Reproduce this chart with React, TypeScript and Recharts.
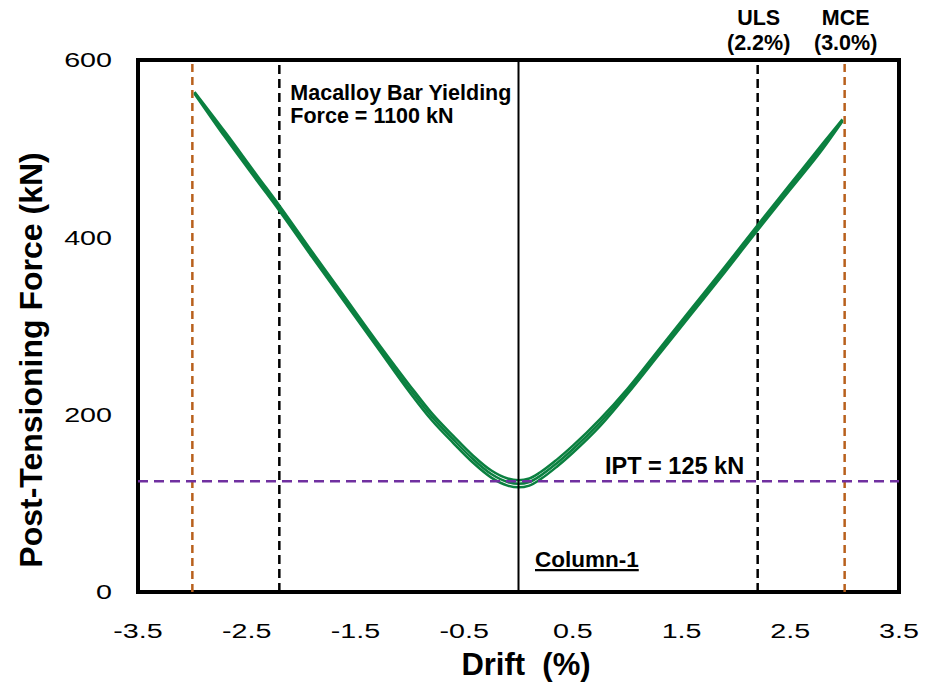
import React from "react";
import {
    LineChart,
    Line,
    XAxis,
    YAxis,
    ReferenceLine,
    ReferenceArea
} from "recharts";

// drift (%) sampled along the V-shaped loops
const drift = [-2.98, -2.7, -2.4, -2.2, -1.9, -1.6, -1.3, -1.0, -0.8, -0.6, -0.42, -0.25, -0.1, 0, 0.1, 0.2, 0.35, 0.5, 0.75, 1.0, 1.3, 1.6, 1.9, 2.2, 2.5, 2.8, 2.98];
// PT force (kN) for the outer, middle and inner strands of the cycles
const forceUpper = [564, 519, 469, 436, 384, 333, 282, 233, 202, 176, 154, 137, 128, 126, 128, 135, 149, 165, 195, 229, 275, 321, 367, 414, 460, 506, 533];
const forceMid = [563, 516, 466, 433, 381, 330, 279, 229, 198, 172, 150, 133, 124, 122, 124, 131, 145, 161, 191, 226, 272, 318, 364, 411, 457, 503, 532];
const forceLower = [562, 513, 463, 430, 378, 327, 276, 225, 194, 168, 146, 129, 120, 118, 120, 127, 141, 157, 187, 223, 269, 315, 361, 408, 454, 500, 531];

const xTicks = [-3.5, -2.5, -1.5, -0.5, 0.5, 1.5, 2.5, 3.5];
const yTicks = [0, 200, 400, 600];

const mceDrift = 3.0;
const ulsDrift = 2.2;
const iptForce = 125;

const data = drift.map((d, i) => ({ drift: d, upper: forceUpper[i], mid: forceMid[i], lower: forceLower[i] }));

const FONT = "'Liberation Sans', Arial, sans-serif";
const GREEN = "#0b8040";
const BROWN = "#b8601c";
const PURPLE = "#7030a0";

const XTick = (props: any) => {
    const { x, y, payload } = props;
    return (
        <g transform={`translate(${x},${y})`}>
            <text transform="scale(1.4,1)" textAnchor="middle" dy="0.71em" fontSize={20.5} fontFamily={FONT} fill="#000">
                {String(payload.value)}
            </text>
        </g>
    );
};

const YTick = (props: any) => {
    const { x, y, payload } = props;
    return (
        <g transform={`translate(${x},${y})`}>
            <text transform="scale(1.4,1)" textAnchor="end" dy="0.36em" fontSize={20.5} fontFamily={FONT} fill="#000">
                {String(payload.value)}
            </text>
        </g>
    );
};

const boldText = { fontFamily: FONT, fontWeight: 700, fill: "#000" } as const;

const MacalloyLabel = (props: any) => {
    const { x, y } = props.viewBox;
    return (
        <g>
            <text x={x + 11} y={y + 39.5} fontSize={21.5} {...boldText}>Macalloy Bar Yielding</text>
            <text x={x + 11} y={y + 62.5} fontSize={21.5} {...boldText}>Force = 1100 kN</text>
        </g>
    );
};

const TopLabel = (name: string, pct: string) => (props: any) => {
    const { x, y } = props.viewBox;
    return (
        <g>
            <text x={x + 1} y={y - 35.5} textAnchor="middle" fontSize={21.5} {...boldText}>{name}</text>
            <text x={x + 1} y={y - 10.5} textAnchor="middle" fontSize={21.5} {...boldText}>{pct}</text>
        </g>
    );
};

const IptLabel = (props: any) => {
    const { x, y } = props.viewBox;
    return (
        <text x={x + 467} y={y - 7} fontSize={23.5} {...boldText}>IPT = 125 kN</text>
    );
};

const ColumnLabel = (props: any) => {
    const { x, y, height } = props.viewBox;
    return (
        <text x={x + 16.5} y={y + height - 25} fontSize={22.5} {...boldText} style={{ textDecoration: "underline" }}>
            Column-1
        </text>
    );
};

const XTitle = (props: any) => {
    const { x, y, width } = props.viewBox;
    return (
        <text x={x + width / 2 + 7.5} y={y + 83} textAnchor="middle" fontSize={31} {...boldText}>
            {"Drift\u00A0\u00A0(%)"}
        </text>
    );
};

const YTitle = () => (
    <text x={42} y={360} transform="rotate(-90, 42, 360)" textAnchor="middle" fontSize={32} {...boldText}>
        Post-Tensioning Force (kN)
    </text>
);

const App = () => {
    return (
        <div style={{ position: "absolute", left: 0, top: 0, width: 926, height: 686, background: "#fff" }}>
            <LineChart width={926} height={686} data={data} margin={{ top: 60, right: 27, bottom: 24, left: 0 }}>
                <XAxis
                    type="number"
                    dataKey="drift"
                    domain={[-3.5, 3.5]}
                    ticks={xTicks}
                    axisLine={false}
                    tickLine={false}
                    tickSize={0}
                    tickMargin={31}
                    height={70}
                    tick={<XTick />}
                    interval={0}
                    allowDataOverflow
                    label={<XTitle />}
                />
                <YAxis
                    type="number"
                    domain={[0, 600]}
                    ticks={yTicks}
                    axisLine={false}
                    tickLine={false}
                    tickSize={0}
                    tickMargin={26}
                    width={138}
                    tick={<YTick />}
                    interval={0}
                    allowDataOverflow
                    label={<YTitle />}
                />
                <ReferenceLine x={-mceDrift} stroke={BROWN} strokeWidth={2.5} strokeDasharray="8 5" />
                <ReferenceLine x={mceDrift} stroke={BROWN} strokeWidth={2.5} strokeDasharray="8 5" label={TopLabel("MCE", "(3.0%)")} />
                <ReferenceLine x={-ulsDrift} stroke="#000" strokeWidth={2.5} strokeDasharray="9 5" label={MacalloyLabel} />
                <ReferenceLine x={ulsDrift} stroke="#000" strokeWidth={2.5} strokeDasharray="9 5" label={TopLabel("ULS", "(2.2%)")} />
                <Line type="monotone" dataKey="upper" stroke={GREEN} strokeWidth={2.5} dot={false} isAnimationActive={false} />
                <Line type="monotone" dataKey="mid" stroke={GREEN} strokeWidth={2.5} dot={false} isAnimationActive={false} />
                <Line type="monotone" dataKey="lower" stroke={GREEN} strokeWidth={2.5} dot={false} isAnimationActive={false} />
                <ReferenceLine x={0} stroke="#000" strokeWidth={2} label={ColumnLabel} />
                <ReferenceLine y={iptForce} stroke={PURPLE} strokeWidth={2.5} strokeDasharray="10 6" label={IptLabel} />
                <ReferenceArea x1={-3.5} x2={3.5} y1={0} y2={600} fill="none" stroke="#000" strokeWidth={4} />
            </LineChart>
        </div>
    );
};

export default App;
